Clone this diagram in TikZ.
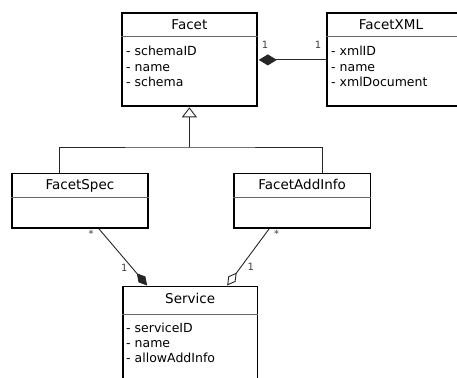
\documentclass[tikz,border=0pt]{standalone}
\usepackage{fontspec}
\setmainfont{DejaVu Sans}
\usetikzlibrary{arrows.meta}
\begin{document}
\begin{tikzpicture}[x=1pt,y=-1pt,
  umlbox/.style={draw=black,line width=1.8pt,rectangle,inner sep=0pt,anchor=north west},
  sepline/.style={draw=black!60,line width=0.9pt},
  ttl/.style={anchor=base,inner sep=0pt,font=\fontsize{13.5}{16}\selectfont},
  attr/.style={anchor=base west,inner sep=0pt,font=\fontsize{12.5}{15}\selectfont},
  mult/.style={inner sep=0pt,text=black!75,font=\fontsize{10}{12}\selectfont},
  conn/.style={draw=black!85,line width=0.9pt}]
\useasboundingbox (0,0) rectangle (457,377);
\clip (0,0) rectangle (457,377);
% boxes
\node[umlbox,minimum width=135pt,minimum height=93pt] (facet) at (121,12.5) {};
\node[umlbox,minimum width=150pt,minimum height=93pt] (facetxml) at (326,12.5) {};
\node[umlbox,minimum width=136pt,minimum height=54.5pt] (facetspec) at (11,172.5) {};
\node[umlbox,minimum width=136.5pt,minimum height=54.5pt] (facetaddinfo) at (233,172.5) {};
\node[umlbox,minimum width=134.5pt,minimum height=120pt] (service) at (122,285.5) {};
% separators
\draw[sepline] (facet.west |- 0,36) -- (facet.east |- 0,36);
\draw[sepline] (facetxml.west |- 0,36) -- (facetxml.east |- 0,36);
\draw[sepline] (facetspec.west |- 0,197) -- (facetspec.east |- 0,197);
\draw[sepline] (facetaddinfo.west |- 0,197) -- (facetaddinfo.east |- 0,197);
\draw[sepline] (service.west |- 0,314) -- (service.east |- 0,314);
% titles
\node[ttl] (facet-t) at (facet.north |- 0,29.3) {Facet};
\node[ttl] (facetxml-t) at (391,29.3) {FacetXML};
\node[ttl] (facetspec-t) at (facetspec.north |- 0,189.3) {FacetSpec};
\node[ttl] (facetaddinfo-t) at (facetaddinfo.north |- 0,189.3) {FacetAddInfo};
\node[ttl] (service-t) at (service.north |- 0,303.3) {Service};
% attributes
\node[attr] (facet-a1) at (126,56) {- schemaID};
\node[attr] (facet-a2) at (126,71.3) {- name};
\node[attr] (facet-a3) at (126,86.6) {- schema};
\node[attr] (facetxml-a1) at (331,56) {- xmlID};
\node[attr] (facetxml-a2) at (331,71.3) {- name};
\node[attr] (facetxml-a3) at (331,86.6) {- xmlDocument};
\node[attr] (service-a1) at (126,332.3) {- serviceID};
\node[attr] (service-a2) at (126,347.3) {- name};
\node[attr] (service-a3) at (126,362.3) {- allowAddInfo};
% generalization
\coordinate (gen) at (facet.south |- 0,147);
\draw[conn,-{Triangle[open,length=10pt,width=15pt]}] (gen) -- (facet.south);
\draw[conn] ([xshift=-20pt]facetspec.north) |- (gen) -| ([xshift=20pt]facetaddinfo.north);
% composition Facet - FacetXML
\draw[conn,-{Diamond[length=18pt,width=11pt]}] (facetxml.west) -- ([xshift=1pt]facet.east);
% FacetSpec - Service (composition)
\draw[conn,-{Diamond[length=16pt,width=9pt]}] ([xshift=19pt]facetspec.south) -- ([xshift=-43pt]service.north);
% FacetAddInfo - Service (aggregation)
\draw[conn,-{Diamond[open,length=16pt,width=9pt]}] ([xshift=-33pt]facetaddinfo.south) -- ([xshift=37pt]service.north);
% multiplicities
\node[mult] (m1) at (265,45) {1};
\node[mult] (m2) at (318,45) {1};
\node[mult] (m3) at (91,234) {*};
\node[mult] (m4) at (276.5,234) {*};
\node[mult] (m5) at (124.3,267.7) {1};
\node[mult] (m6) at (250.7,266.7) {1};
\end{tikzpicture}
\end{document}
